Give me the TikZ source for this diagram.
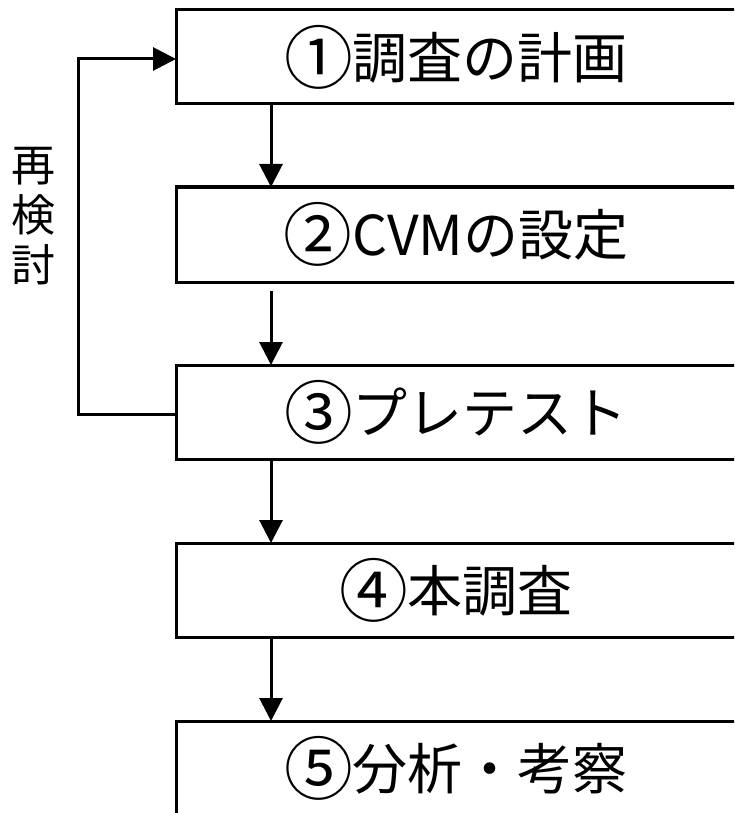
\documentclass[tikz,border=0pt]{standalone}
\usepackage{fontspec}
\setmainfont{Noto Sans CJK JP}
\usetikzlibrary{arrows.meta,calc}
\newcommand{\cnum}[1]{\raisebox{-0.09em}{\scalebox{1.25}{#1}}}
\begin{document}
\begin{tikzpicture}[x=1pt,y=-1pt, line width=3pt,
  box/.style={draw, minimum width=560pt, minimum height=94pt, inner sep=0pt, outer sep=0pt, font=\fontsize{55}{60}\selectfont},
  arr/.style={-{Triangle[width=23pt,length=23pt]}},
  lbl/.style={align=center, inner sep=0pt, font=\fontsize{44}{50}\selectfont}]
\useasboundingbox (0,0) rectangle (734,813);
\clip (0,0) rectangle (734,813);
\node[box] (b1) at (456,57) {\cnum{①}調査の計画};
\node[box, minimum height=95pt] (b2) at (456,234.5) {\cnum{②}CVMの設定};
\node[box] (b3) at (456,412) {\cnum{③}プレテスト};
\node[box] (b4) at (456,590) {\cnum{④}本調査};
\node[box, draw=none] (b5) at (456,768) {\cnum{⑤}分析・考察};
\draw ($(b5.south west)+(0,40)$) -- (b5.north west) -- (b5.north east) -- ($(b5.south east)+(0,40)$);
\node[lbl] (l) at (33,216) {再\\検\\討};
\draw[arr] ($(b1.south west)+(95,0)$) -- ($(b2.north west)+(95,0)$);
\draw[arr] ($(b2.south west)+(95,9)$) -- ($(b3.north west)+(95,0)$);
\draw[arr] ($(b3.south west)+(95,0)$) -- ($(b4.north west)+(95,0)$);
\draw[arr] ($(b4.south west)+(95,0)$) -- ($(b5.north west)+(95,0)$);
\coordinate (c) at (78,414);
\draw[arr] ($(b3.west)+(0,2)$) -- (c) |- ($(b1.west)+(0,2)$);
\end{tikzpicture}
\end{document}
